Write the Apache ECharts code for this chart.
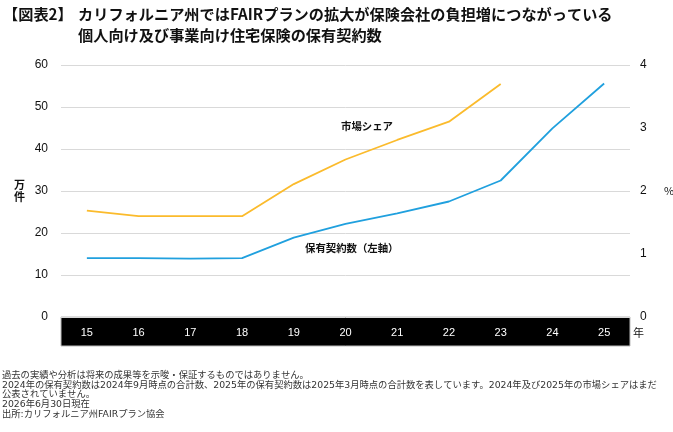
<!DOCTYPE html>
<html>
<head>
<meta charset="utf-8">
<script src="https://cdn.jsdelivr.net/npm/echarts@6/dist/echarts.min.js"></script>
<style>
  html, body { margin: 0; padding: 0; background: #fff; }
  #chart { width: 673px; height: 432px; }
</style>
</head>
<body>
<div id="chart"></div>
<script>
// 年（下2桁）
var years = ['15', '16', '17', '18', '19', '20', '21', '22', '23', '24', '25'];
// 保有契約数（万件、左軸）
var contracts = [14.0, 14.0, 13.9, 14.0, 18.9, 22.2, 24.7, 27.5, 32.5, 44.9, 55.6];
// 市場シェア（%、右軸）　24・25年は未公表
var share = [1.69, 1.60, 1.60, 1.60, 2.11, 2.50, 2.81, 3.10, 3.70, null, null];

var notes = [
  '過去の実績や分析は将来の成果等を示唆・保証するものではありません。',
  '2024年の保有契約数は2024年9月時点の合計数、2025年の保有契約数は2025年3月時点の合計数を表しています。2024年及び2025年の市場シェアはまだ',
  '公表されていません。',
  '2026年6月30日現在',
  '出所:カリフォルニア州FAIRプラン協会'
];

var font = '"Noto Sans CJK JP", "Noto Sans", sans-serif';
var latin = '"Liberation Sans", Arial, sans-serif';
var chart = echarts.init(document.getElementById('chart'));

// グリッド位置
var gridLeft = 61, gridRight = 43, gridTop = 65, gridBottom = 115;
var W = 673, H = 432;
var axisY = H - gridBottom;

var option = {
  backgroundColor: '#fff',
  animation: false,
  textStyle: { fontFamily: font },
  title: [
    { text: '【図表2】', left: -2, top: 2,
      textStyle: { fontSize: 15.2, fontWeight: 'bold', color: '#111', fontFamily: font } },
    { text: 'カリフォルニア州ではFAIRプランの拡大が保険会社の負担増につながっている', left: 73, top: 2,
      textStyle: { fontSize: 15.2, fontWeight: 'bold', color: '#111', fontFamily: font } },
    { text: '個人向け及び事業向け住宅保険の保有契約数', left: 73, top: 23,
      textStyle: { fontSize: 15.2, fontWeight: 'bold', color: '#111', fontFamily: font } }
  ],
  grid: { left: gridLeft, right: gridRight, top: gridTop, bottom: gridBottom,
          containLabel: false, outerBoundsMode: 'none' },
  xAxis: {
    type: 'category',
    data: years,
    boundaryGap: true,
    axisLine: { show: false },
    axisTick: { show: false },
    axisLabel: { color: '#fff', fontSize: 11, margin: 10, fontFamily: latin },
    z: 10
  },
  yAxis: [
    {
      type: 'value', min: 0, max: 60, interval: 10,
      name: '万\n件', nameLocation: 'middle', nameRotate: 0, nameGap: 36,
      nameTextStyle: { color: '#111', fontSize: 11, fontWeight: 'bold', lineHeight: 12, fontFamily: font },
      axisLine: { show: false }, axisTick: { show: false },
      axisLabel: { color: '#111', fontSize: 12, margin: 13, fontFamily: latin },
      splitLine: { lineStyle: { color: '#d9d9d9', width: 1 } }
    },
    {
      type: 'value', min: 0, max: 4, interval: 1,
      name: '%', nameLocation: 'middle', nameRotate: 0, nameGap: 34,
      nameTextStyle: { color: '#111', fontSize: 11, fontFamily: font },
      axisLine: { show: false }, axisTick: { show: false },
      axisLabel: { color: '#111', fontSize: 12, margin: 10, fontFamily: latin },
      splitLine: { show: false }
    }
  ],
  series: [
    {
      name: '保有契約数', type: 'line', yAxisIndex: 0, data: contracts,
      symbol: 'none', lineStyle: { color: '#20a0de', width: 1.8 }, z: 3
    },
    {
      name: '市場シェア', type: 'line', yAxisIndex: 1, data: share,
      symbol: 'none', lineStyle: { color: '#fbbb2c', width: 1.8 }, z: 3
    }
  ],
  graphic: [
    // 横軸の黒帯
    { type: 'rect', z: 0, zlevel: 0,
      shape: { x: gridLeft, y: axisY, width: W - gridLeft - gridRight, height: 29 },
      style: { fill: '#000', stroke: '#bbb', lineWidth: 1 } },
    { type: 'text', left: W - gridRight + 3, top: axisY + 10,
      style: { text: '年', fill: '#111', font: '11px ' + font } },
    { type: 'text', left: 341, top: 121,
      style: { text: '市場シェア', fill: '#111', font: 'bold 10.4px ' + font } },
    { type: 'text', left: 305, top: 243,
      style: { text: '保有契約数（左軸）', fill: '#111', font: 'bold 10.4px ' + font } },
    { type: 'text', left: 2, top: 371,
      style: { text: notes.join('\n'), fill: '#333',
               font: '9.3px "DejaVu Sans", "Noto Sans CJK JP", sans-serif', lineHeight: 9.6 } }
  ]
};

chart.setOption(option);
</script>
</body>
</html>
